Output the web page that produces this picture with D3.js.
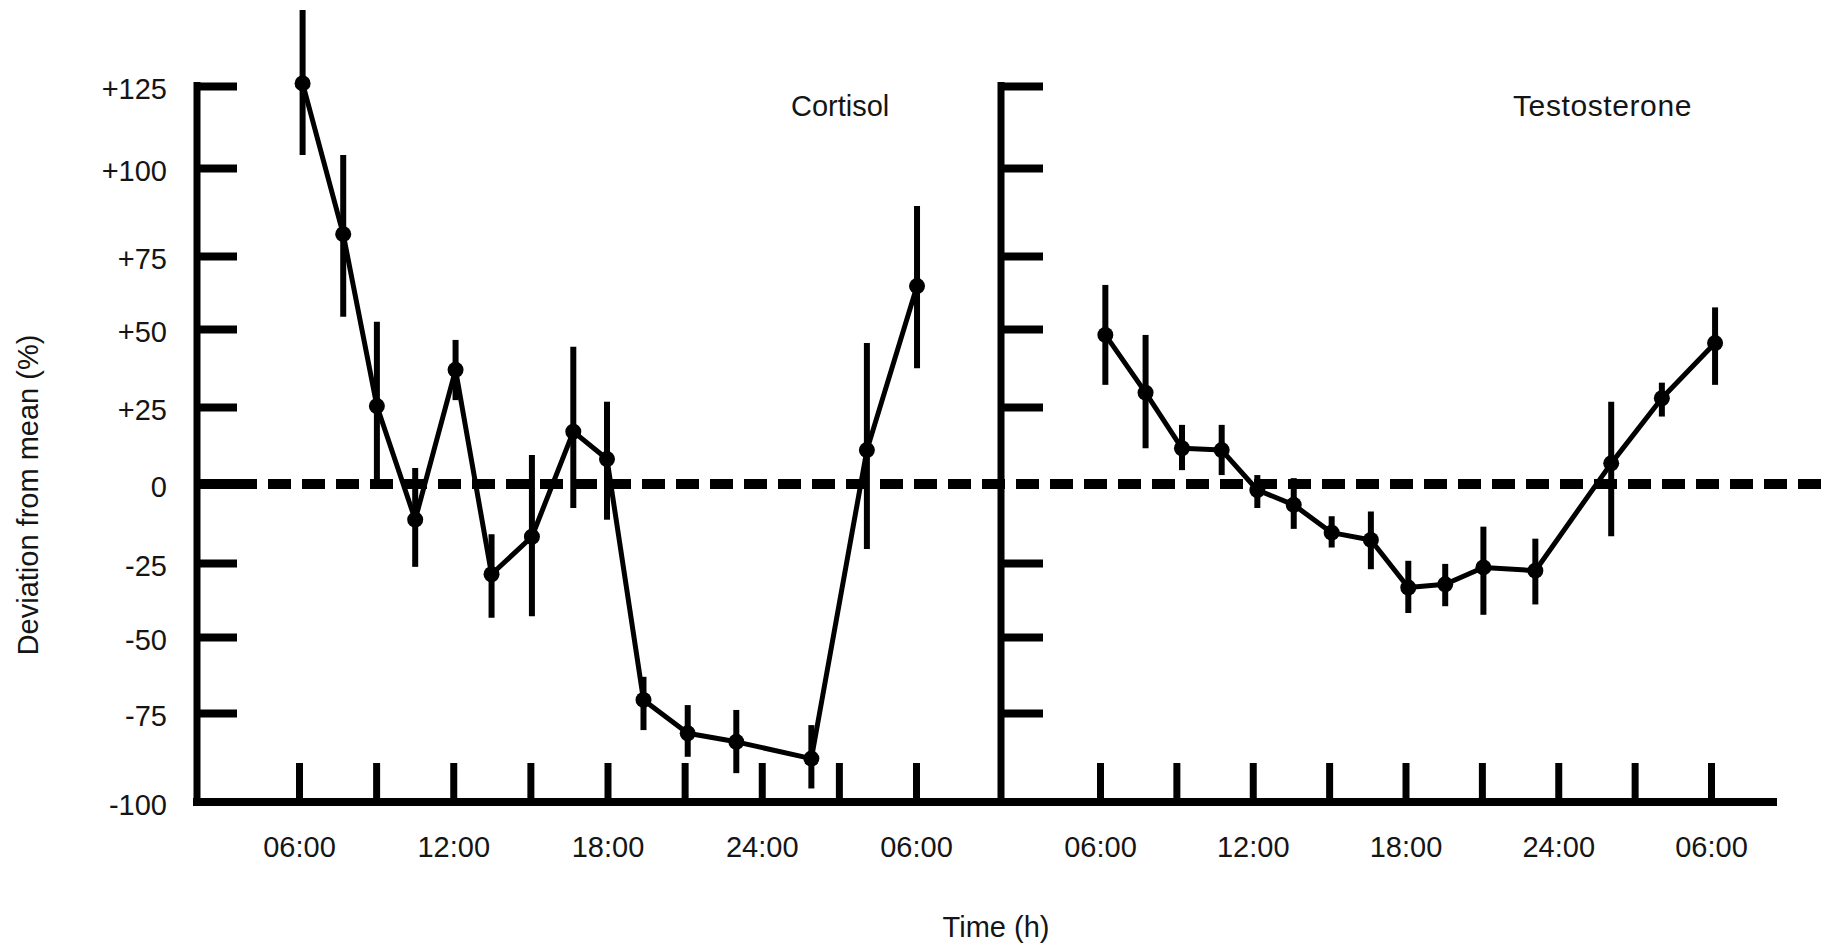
<!DOCTYPE html>
<html>
<head>
<meta charset="utf-8">
<script src="https://cdn.jsdelivr.net/npm/d3@7"></script>
<style>
  html, body { margin: 0; padding: 0; background: #fff; }
  svg { display: block; }
  text { font-family: "Liberation Sans", Arial, Helvetica, sans-serif; fill: #151515; }
</style>
</head>
<body>
<script>
// Sampling times in hours (06:00 = 6, next-day 06:00 = 30)
const cortisolTime = [6.14, 7.72, 9.03, 10.52, 12.09, 13.49, 15.06, 16.67, 17.98, 19.40, 21.12, 23.01, 25.93, 28.09, 30.04];
// Deviation from mean (%) with upper / lower ends of the error bars
const cortisolMean = [125.8, 81.2, 25.3, -11.3, 36.9, -28.8, -16.7, 17.0, 8.1, -70.7, -80.7, -83.1, -87.8, 11.0, 64.7];
const cortisolHigh = [148.2, 104.0, 52.5, 5.2, 46.5, -15.9, 9.4, 44.3, 26.7, -63.1, -72.4, -74.0, -78.4, 45.5, 89.2];
const cortisolLow  = [104.0, 54.2, 0.3, -26.3, 27.2, -43.5, -43.0, -7.6, -11.3, -79.8, -87.3, -91.9, -96.2, -20.6, 37.4];

const testosteroneTime = [6.21, 7.79, 9.22, 10.78, 12.18, 13.61, 15.10, 16.64, 18.11, 19.56, 21.06, 23.10, 26.08, 28.07, 30.16];
const testosteroneMean = [48.1, 29.6, 11.6, 11.0, -1.9, -6.6, -15.4, -17.7, -33.3, -32.2, -26.5, -27.6, 6.7, 27.8, 45.5];
const testosteroneHigh = [65.1, 48.1, 19.2, 19.2, 2.9, 1.9, -10.2, -8.7, -24.3, -25.3, -13.5, -17.3, 26.7, 32.8, 57.4];
const testosteroneLow  = [32.1, 11.6, 4.5, 2.9, -7.6, -14.2, -20.1, -27.1, -41.9, -39.6, -42.5, -39.0, -16.5, 21.9, 32.1];

const yTickValues = [-100, -75, -50, -25, 0, 25, 50, 75, 100, 125];
const yTickLabels = ["-100", "-75", "-50", "-25", "0", "+25", "+50", "+75", "+100", "+125"];
const xTickValues = [6, 9, 12, 15, 18, 21, 24, 27, 30];
const xTickLabels = ["06:00", "", "12:00", "", "18:00", "", "24:00", "", "06:00"];

const panelNames = ["Cortisol", "Testosterone"];

const W = 1829, H = 948;
const svg = d3.select("body").append("svg").attr("width", W).attr("height", H);
svg.append("rect").attr("width", W).attr("height", H).attr("fill", "#fff");

// The printed axis has slightly uneven tick spacing, so the value scale is piecewise linear
const y = d3.scaleLinear()
  .domain(yTickValues)
  .range([802, 713, 637, 563, 484, 407, 329, 256, 168, 86]);

const xLeft = d3.scaleLinear().domain([6, 30]).range([299, 916]);
const xRight = d3.scaleLinear().domain([6, 30]).range([1100, 1711]);

const axisTop = 82, axisBottom = 806;
const leftAxisX = 197, midAxisX = 1001;

// ---- left value axis with labels
const gL = svg.append("g").attr("transform", `translate(${leftAxisX},0)`)
  .call(d3.axisLeft(y)
    .tickValues(yTickValues)
    .tickFormat(d => yTickLabels[yTickValues.indexOf(d)])
    .tickSizeInner(-40).tickSizeOuter(0).tickPadding(30));
gL.select(".domain").remove();
gL.selectAll(".tick").filter(d => d === 0 || d === -100).select("line").remove();
gL.selectAll(".tick line").attr("stroke", "#000").attr("stroke-width", 8);
gL.selectAll(".tick text")
  .attr("font-size", 29).attr("dy", "0.42em")
  .style("font-family", "'Liberation Sans', Arial, sans-serif").attr("fill", "#151515");

// ---- right panel value axis (ticks only)
const gR = svg.append("g").attr("transform", `translate(${midAxisX},0)`)
  .call(d3.axisLeft(y)
    .tickValues(yTickValues.filter(v => v !== 0 && v !== -100))
    .tickFormat("")
    .tickSizeInner(-42).tickSizeOuter(0));
gR.select(".domain").remove();
gR.selectAll(".tick text").remove();
gR.selectAll(".tick line").attr("stroke", "#000").attr("stroke-width", 8);

// ---- time axes
[xLeft, xRight].forEach(xs => {
  const g = svg.append("g").attr("transform", `translate(0,${y(-100)})`)
    .call(d3.axisBottom(xs)
      .tickValues(xTickValues)
      .tickFormat(d => xTickLabels[xTickValues.indexOf(d)])
      .tickSizeInner(-39).tickSizeOuter(0).tickPadding(34));
  g.select(".domain").remove();
  g.selectAll(".tick line").attr("stroke", "#000").attr("stroke-width", 7);
  g.selectAll(".tick text")
    .attr("font-size", 29)
    .style("font-family", "'Liberation Sans', Arial, sans-serif").attr("fill", "#151515");
});

// ---- axis lines
svg.append("line").attr("x1", leftAxisX).attr("x2", leftAxisX)
  .attr("y1", axisTop).attr("y2", axisBottom).attr("stroke", "#000").attr("stroke-width", 7);
svg.append("line").attr("x1", midAxisX).attr("x2", midAxisX)
  .attr("y1", axisTop).attr("y2", axisBottom).attr("stroke", "#000").attr("stroke-width", 7);
svg.append("line").attr("x1", 193).attr("x2", 1777)
  .attr("y1", y(-100)).attr("y2", y(-100)).attr("stroke", "#000").attr("stroke-width", 8);

// ---- zero reference line
svg.append("line").attr("x1", leftAxisX).attr("x2", 257)
  .attr("y1", y(0)).attr("y2", y(0)).attr("stroke", "#000").attr("stroke-width", 10);
svg.append("line").attr("x1", 268).attr("x2", W)
  .attr("y1", y(0)).attr("y2", y(0)).attr("stroke", "#000").attr("stroke-width", 10)
  .attr("stroke-dasharray", "23 11");

// ---- series
function drawSeries(xs, times, mean, high, low) {
  const pts = times.map((t, i) => ({ t, v: mean[i], hi: high[i], lo: low[i] }));
  const g = svg.append("g");
  g.selectAll("line.err").data(pts).join("line").attr("class", "err")
    .attr("x1", d => xs(d.t)).attr("x2", d => xs(d.t))
    .attr("y1", d => y(d.hi)).attr("y2", d => y(d.lo))
    .attr("stroke", "#000").attr("stroke-width", 6);
  g.append("path").datum(pts)
    .attr("d", d3.line().x(d => xs(d.t)).y(d => y(d.v)))
    .attr("fill", "none").attr("stroke", "#000").attr("stroke-width", 5)
    .attr("stroke-linejoin", "round");
  g.selectAll("circle").data(pts).join("circle")
    .attr("cx", d => xs(d.t)).attr("cy", d => y(d.v)).attr("r", 8).attr("fill", "#000");
}
drawSeries(xLeft, cortisolTime, cortisolMean, cortisolHigh, cortisolLow);
drawSeries(xRight, testosteroneTime, testosteroneMean, testosteroneHigh, testosteroneLow);

// ---- titles
svg.append("text").attr("x", 791).attr("y", 116).attr("font-size", 29).text(panelNames[0]);
svg.append("text").attr("x", 1513).attr("y", 116).attr("font-size", 30)
  .attr("letter-spacing", 0.6).text(panelNames[1]);
svg.append("text").attr("x", 996).attr("y", 937).attr("text-anchor", "middle")
  .attr("font-size", 29).text("Time (h)");
svg.append("text").attr("transform", "translate(38,495) rotate(-90)")
  .attr("text-anchor", "middle").attr("font-size", 29).text("Deviation from mean (%)");
</script>
</body>
</html>
